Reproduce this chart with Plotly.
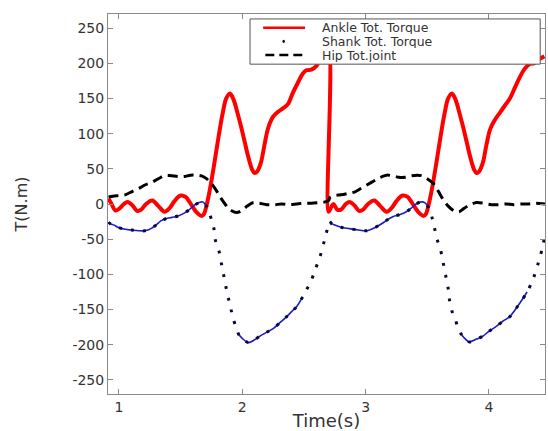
import plotly.graph_objects as go

# ---------------- data ----------------
ankle_t = [0.915, 0.94, 0.97, 1.00, 1.04, 1.07, 1.11, 1.15, 1.18, 1.22, 1.27, 1.32, 1.37, 1.41,
           1.45, 1.50, 1.54, 1.59, 1.63, 1.67, 1.69, 1.71, 1.73, 1.75, 1.78, 1.81, 1.84, 1.87,
           1.90, 1.93, 1.96, 1.99, 2.02, 2.05, 2.08, 2.10, 2.12, 2.15, 2.18, 2.21, 2.25, 2.29,
           2.33, 2.37, 2.41, 2.45, 2.49, 2.52, 2.56, 2.60, 2.64, 2.68, 2.70,
           2.70, 2.72, 2.74, 2.77, 2.80, 2.84, 2.87, 2.91, 2.95, 2.98, 3.02, 3.07, 3.12, 3.17,
           3.21, 3.25, 3.30, 3.34, 3.39, 3.43, 3.47, 3.49, 3.51, 3.53, 3.55, 3.58, 3.61, 3.64,
           3.67, 3.70, 3.73, 3.76, 3.79, 3.82, 3.85, 3.88, 3.90, 3.92, 3.95, 3.98, 4.01, 4.05,
           4.09, 4.13, 4.17, 4.21, 4.25, 4.29, 4.33, 4.37, 4.41, 4.45]
ankle_v = [8, 0, -9, -7, 0, 3, -2, -10, -8, 0, 5, -3, -11, -6,
           4, 12, 10, -2, -12, -17, -14, -2, 14, 33, 65, 98, 128, 150,
           157, 148, 130, 110, 88, 66, 49, 44, 46, 58, 84, 108, 124, 131,
           136, 142, 158, 172, 185, 190, 191, 196, 208, 218, 220,
           -11, -5, 0, -8, -8, 0, 3, -2, -10, -8, 0, 5, -3, -11,
           -6, 4, 12, 10, -2, -12, -17, -14, -2, 14, 33, 65, 98, 128,
           150, 157, 148, 130, 110, 88, 66, 49, 44, 46, 58, 84, 106, 120,
           130, 140, 150, 165, 180, 192, 199, 200, 206, 210]

shank_t = [0.915, 0.93, 0.96, 0.99, 1.05, 1.10, 1.16, 1.21, 1.26, 1.30, 1.34, 1.38, 1.43, 1.48,
           1.53, 1.57, 1.61, 1.65, 1.68, 1.71, 1.73, 1.75, 1.77, 1.78, 1.81, 1.83, 1.85, 1.87,
           1.89, 1.91, 1.93, 1.95, 1.97, 2.00, 2.05, 2.10, 2.14, 2.20, 2.25, 2.31, 2.36, 2.40,
           2.44, 2.49, 2.52, 2.55, 2.59, 2.63, 2.66, 2.68, 2.70,
           2.71, 2.725, 2.75, 2.80, 2.87, 2.94, 3.01, 3.07, 3.14, 3.18, 3.22, 3.28, 3.33, 3.37,
           3.41, 3.45, 3.48, 3.51, 3.54, 3.56, 3.58, 3.61, 3.63, 3.65, 3.67, 3.68, 3.70, 3.73,
           3.75, 3.78, 3.81, 3.84, 3.90, 3.95, 4.00, 4.06, 4.11, 4.17, 4.21, 4.25, 4.31, 4.36,
           4.40, 4.43, 4.455]
shank_v = [-26, -28, -30, -33, -36, -37, -38, -38, -35, -30, -24, -21, -19, -17,
           -13, -8, -2, 2, 3, -3, -12, -22, -35, -50, -66, -84, -102, -120,
           -136, -151, -165, -175, -185, -191, -197, -193, -188, -182, -177, -168, -160, -153,
           -146, -132, -122, -113, -94, -75, -56, -42, -30,
           -25, -28, -30, -33, -35, -37, -38, -34, -27, -22, -18, -15, -11, -6,
           0, 3, 2, -5, -20, -35, -50, -67, -84, -102, -120, -136, -152, -165,
           -177, -186, -192, -196, -192, -188, -181, -174, -167, -160, -151, -141, -125, -106,
           -84, -65, -44]

hip_t = [0.915, 0.95, 1.00, 1.05, 1.11, 1.16, 1.21, 1.27, 1.33, 1.38, 1.43, 1.48, 1.53, 1.58,
         1.63, 1.67, 1.71, 1.75, 1.79, 1.82, 1.86, 1.90, 1.95, 1.99, 2.04, 2.09, 2.14, 2.20,
         2.26, 2.32, 2.38, 2.44, 2.50, 2.56, 2.62, 2.67, 2.70,
         2.71, 2.75, 2.80, 2.86, 2.91, 2.96, 3.01, 3.07, 3.12, 3.17, 3.22, 3.27, 3.32, 3.37,
         3.42, 3.46, 3.50, 3.55, 3.59, 3.63, 3.67, 3.72, 3.76, 3.80, 3.85, 3.90, 3.96, 4.02,
         4.08, 4.14, 4.20, 4.26, 4.32, 4.38, 4.455]
hip_v = [10, 11, 12, 13, 18, 22, 27, 31, 37, 41, 40, 39, 39, 41,
         41, 40, 36, 29, 19, 10, 0, -8, -12, -10, -3, 2, 1, -1,
         -1, 0, -1, 0, 1, 1, 2, 3, 5,
         9, 12, 13, 15, 17, 22, 27, 33, 38, 41, 40, 38, 38, 40,
         41, 40, 36, 29, 18, 6, -3, -10, -11, -6, -1, 2, 1, -1,
         -1, 0, -1, 0, 0, 1, 0]

x_ticks = [1, 2, 3, 4]
x_ticktext = ["1", "2", "3", "4"]
y_ticks = [-250, -200, -150, -100, -50, 0, 50, 100, 150, 200, 250]
y_ticktext = ["-250", "-200", "-150", "-100", "-50", "0", "50", "100", "150", "200", "250"]

series_names = ["Ankle Tot. Torque", "Shank Tot. Torque", "Hip Tot.joint"]

# ---------------- figure ----------------
FONT = "DejaVu Sans"
fig = go.Figure()

fig.add_trace(go.Scatter(x=ankle_t, y=ankle_v, mode="lines", name=series_names[0],
                         line=dict(color="#ff0000", width=4, shape="spline", smoothing=1.0),
                         showlegend=False))

# shank: blue continuous line where the sampled dots are dense (gentle slope)
bx, by = [], []
for i in range(len(shank_t) - 1):
    slope = abs(shank_v[i + 1] - shank_v[i]) / max(shank_t[i + 1] - shank_t[i], 1e-9)
    if slope < 300:
        if not bx or bx[-1] is None or bx[-1] != shank_t[i]:
            if bx and bx[-1] is not None:
                bx.append(None); by.append(None)
            bx.append(shank_t[i]); by.append(shank_v[i])
        bx.append(shank_t[i + 1]); by.append(shank_v[i + 1])
    else:
        if bx and bx[-1] is not None:
            bx.append(None); by.append(None)
fig.add_trace(go.Scatter(x=bx, y=by, mode="lines", showlegend=False, hoverinfo="skip",
                         line=dict(color="#1a1acc", width=1.6, shape="spline", smoothing=0.9)))
fig.add_trace(go.Scatter(x=shank_t, y=shank_v, mode="lines", name=series_names[1],
                         line=dict(color="#0a0a30", width=3, dash="3px,9px", shape="spline",
                                   smoothing=0.9),
                         showlegend=False))

fig.add_trace(go.Scatter(x=hip_t, y=hip_v, mode="lines", name=series_names[2],
                         line=dict(color="#000000", width=3, dash="10px,6px", shape="spline",
                                   smoothing=0.9),
                         showlegend=False))

# ---------------- manual legend (boxed, top right) ----------------
lx0, lx1, ly0, ly1 = 0.325, 0.989, 0.868, 0.987
fig.add_shape(type="rect", xref="paper", yref="paper", x0=lx0, x1=lx1, y0=ly0, y1=ly1,
              fillcolor="white", line=dict(color="#555555", width=1), layer="above")
rows = [0.964, 0.928, 0.892]
fig.add_shape(type="line", xref="paper", yref="paper", x0=0.355, x1=0.451, y0=rows[0], y1=rows[0],
              line=dict(color="#ff0000", width=2.5), layer="above")
fig.add_shape(type="circle", xref="paper", yref="paper", x0=0.399, x1=0.405,
              y0=rows[1] - 0.004, y1=rows[1] + 0.004,
              fillcolor="#0a0a30", line=dict(width=0), layer="above")
fig.add_shape(type="line", xref="paper", yref="paper", x0=0.36, x1=0.451, y0=rows[2], y1=rows[2],
              line=dict(color="#000000", width=2.5, dash="9px,5px"), layer="above")
for r, name in zip(rows, series_names):
    fig.add_annotation(xref="paper", yref="paper", x=0.488, y=r, text=name, showarrow=False,
                       xanchor="left", yanchor="middle", height=13, borderpad=0,
                       font=dict(family=FONT, size=12.5, color="#333333"))

axis_common = dict(showline=True, linecolor="#8a8a8a", linewidth=1, mirror="ticks",
                   ticks="inside", ticklen=5, tickcolor="#8a8a8a", showgrid=False,
                   zeroline=False, tickfont=dict(family=FONT, size=14, color="#333333"))

fig.update_layout(
    width=548, height=431,
    margin=dict(l=108, r=3, t=14, b=37),
    paper_bgcolor="white", plot_bgcolor="white",
    xaxis=dict(range=[0.911, 4.455], tickvals=x_ticks, ticktext=x_ticktext,
               title=dict(text="Time(s)", font=dict(family=FONT, size=18, color="#333333"),
                          standoff=2),
               **axis_common),
    yaxis=dict(range=[-270, 270], tickvals=y_ticks, ticktext=y_ticktext,
               title=dict(text="T(N.m)", font=dict(family=FONT, size=16, color="#333333"),
                          standoff=40),
               **axis_common),
)

fig.write_html("out.html")
